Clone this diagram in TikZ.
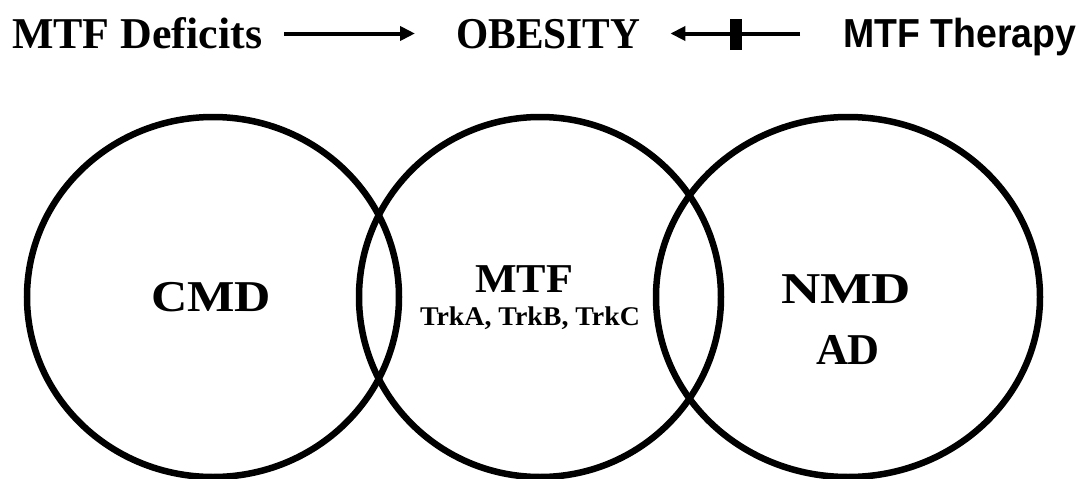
\documentclass[tikz,border=0pt]{standalone}
\usepackage{fontspec}
\setmainfont{Liberation Serif}
\newfontfamily\sansf{Liberation Sans}
\usetikzlibrary{arrows.meta}
\newcommand{\fitw}[2]{\resizebox{#1}{\height}{#2}}
\begin{document}
\begin{tikzpicture}[x=1pt,y=-1pt,
  toptxt/.style={inner sep=0pt, text height=29pt, text depth=0pt, anchor=base west,
    font=\bfseries\fontsize{44}{44}\selectfont},
  midtxt/.style={inner sep=0pt, anchor=base, font=\bfseries\fontsize{41}{41}\selectfont},
  bigtxt/.style={inner sep=0pt, anchor=base, font=\bfseries\fontsize{44}{44}\selectfont},
  smalltxt/.style={inner sep=0pt, anchor=base, font=\bfseries\fontsize{27}{27}\selectfont},
  arr/.style={line width=4pt, -{Triangle[length=15pt,width=14pt]}},
  ring/.style={line width=6.5pt}]
\useasboundingbox (0,0) rectangle (1080,479);
% top row
\node[toptxt] (deficits) at (12,48) {\fitw{250pt}{MTF Deficits}};
\node[toptxt] (obesity) at (456,48) {\fitw{184pt}{OBESITY}};
\node[toptxt, font=\sansf\bfseries\fontsize{40.5}{40.5}\selectfont] (therapy) at (843,48) {\fitw{233pt}{MTF Therapy}};
\draw[arr] ([xshift=22pt]deficits.east) -- ([xshift=-41pt]obesity.west);
\draw[arr] ([xshift=-43pt]therapy.west) -- ([xshift=30pt]obesity.east);
\node[fill=black, inner sep=0pt, minimum width=12pt, minimum height=31pt] (bar) at (736,34.5) {};
% circles
\draw[ring] (213,297) ellipse [x radius=186, y radius=180];
\draw[ring] (540,297) ellipse [x radius=181, y radius=180];
\draw[ring] (848,297) ellipse [x radius=192, y radius=180];
% labels
\node[bigtxt] (cmd) at (211,311) {\fitw{120pt}{CMD}};
\node[midtxt] (mtf) at (524,292) {\fitw{98pt}{MTF}};
\node[smalltxt] (trk) at (530,325) {\fitw{220pt}{TrkA, TrkB, TrkC}};
\node[bigtxt] (nmd) at (846,303) {\fitw{130pt}{NMD}};
\node[bigtxt] (ad) at (848,364) {\fitw{64pt}{AD}};
\end{tikzpicture}
\end{document}
